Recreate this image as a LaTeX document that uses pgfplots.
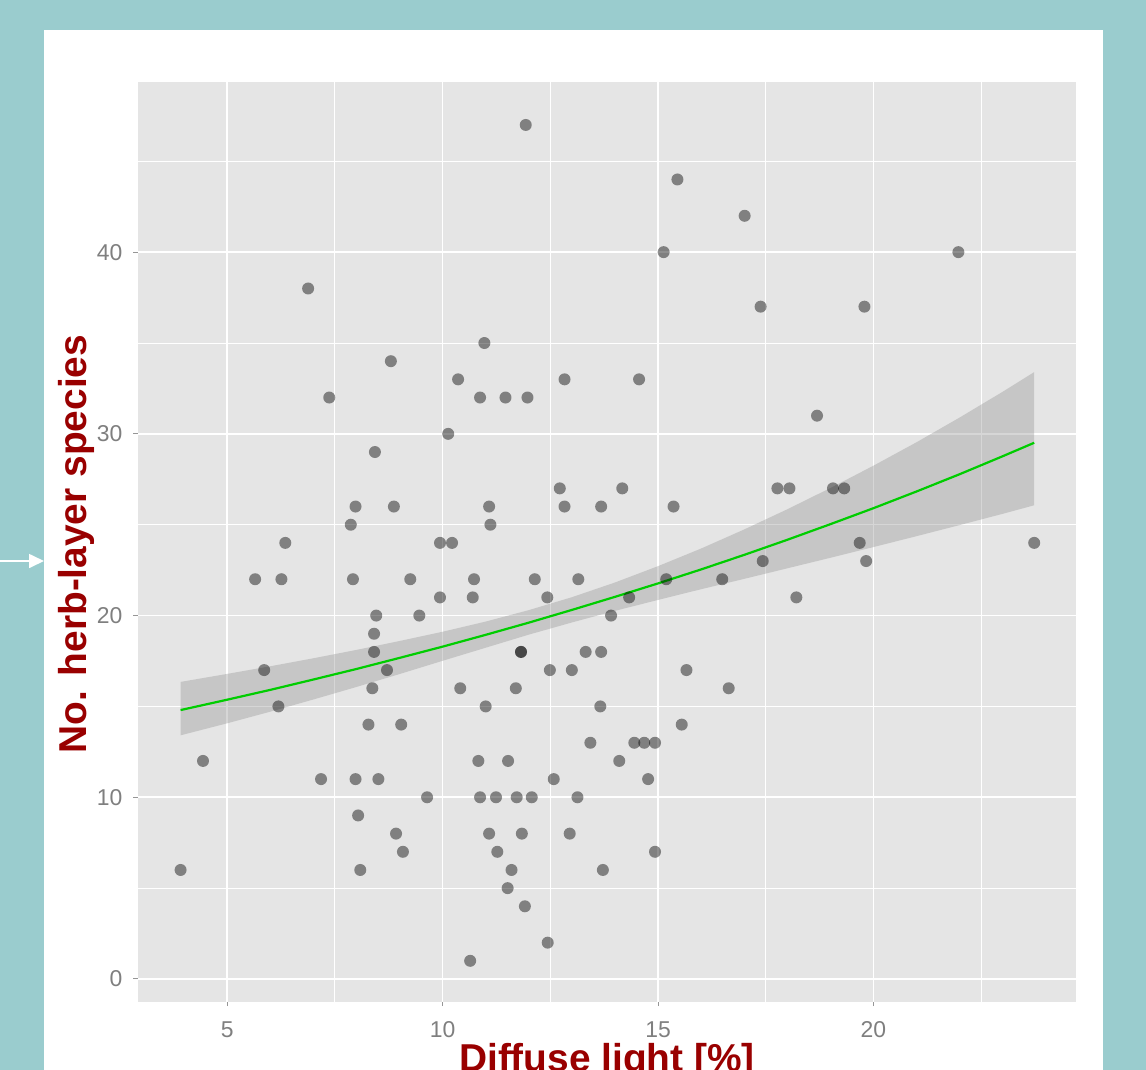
\documentclass[border=0pt]{standalone}
\usepackage{fontspec}
\setmainfont{Liberation Sans}
\usepackage{pgfplots}
\pgfplotsset{compat=1.18}
\usetikzlibrary{arrows.meta}
\definecolor{tealbg}{RGB}{154,204,206}
\definecolor{panelbg}{RGB}{229,229,229}
\definecolor{titlered}{RGB}{153,0,0}
\definecolor{tickgray}{RGB}{127,127,127}
\definecolor{tickmark}{RGB}{150,150,150}
\definecolor{fitgreen}{RGB}{0,205,0}
\definecolor{bandgray}{RGB}{153,153,153}
\begin{document}
\begin{tikzpicture}
\useasboundingbox (0,0) rectangle (1146bp,-1070bp);
\clip (0,0) rectangle (1146bp,-1070bp);
\fill[tealbg] (0,0) rectangle (1146bp,-1070bp);
\fill[white] (44bp,-30bp) rectangle (1103bp,-1070bp);
\draw[white, line width=1.7bp, -{Triangle[length=15bp,width=14bp]}] (0,-561bp) -- (44bp,-561bp);
\begin{axis}[
  at={(137.5bp,-1001.7bp)}, anchor=south west,
  width=938.5bp, height=920bp, scale only axis,
  xmin=2.92, xmax=24.70, ymin=-1.25, ymax=49.38,
  axis background/.style={fill=panelbg},
  axis lines*=left, axis line style={draw=none},
  xtick={5,10,15,20}, ytick={0,10,20,30,40},
  minor xtick={7.5,12.5,17.5,22.5}, minor ytick={5,15,25,35,45},
  grid=both,
  major grid style={white, line width=1.8bp},
  minor grid style={white, line width=0.9bp},
  tick align=outside, major tick length=4.5bp, minor tick length=0pt,
  tick style={tickmark, line width=1bp},
  /pgf/number format/assume math mode=true,
  ticklabel style={font=\fontsize{23}{23}\selectfont, text=tickgray},
  xticklabel style={inner sep=0pt, anchor=north, yshift=-15bp},
  yticklabel style={inner sep=0pt, anchor=east, xshift=-10.5bp},
  clip=true,
]
\addplot[only marks, mark=*, mark size=6bp, mark options={draw opacity=0, fill=black, fill opacity=0.44}] coordinates {
(3.92,6) (4.44,12) (5.65,22) (5.86,17) (6.19,15) (6.26,22) (6.35,24) (6.88,38)
(7.18,11) (7.37,32) (7.87,25) (7.98,26) (7.92,22) (7.98,11) (8.04,9) (8.09,6)
(8.28,14) (8.37,16) (8.41,18) (8.41,19) (8.46,20) (8.43,29) (8.51,11) (8.71,17)
(8.80,34) (8.87,26) (8.92,8) (9.04,14) (9.08,7) (9.25,22) (9.46,20) (9.64,10)
(9.94,21) (9.94,24) (10.13,30) (10.22,24) (10.36,33) (10.41,16) (10.64,1) (10.73,22)
(10.70,21) (10.83,12) (10.87,32) (10.87,10) (10.97,35) (11.00,15) (11.08,26) (11.11,25)
(11.08,8) (11.24,10) (11.27,7) (11.46,32) (11.52,12) (11.51,5) (11.60,6) (11.70,16)
(11.72,10) (11.82,18) (11.82,18) (11.84,8) (11.91,4) (11.93,47) (11.97,32) (12.07,10)
(12.14,22) (12.43,21) (12.44,2) (12.49,17) (12.58,11) (12.72,27) (12.83,26) (12.83,33)
(12.95,8) (13.00,17) (13.13,10) (13.15,22) (13.32,18) (13.43,13) (13.66,15) (13.68,18)
(13.68,26) (13.72,6) (13.91,20) (14.10,12) (14.17,27) (14.33,21) (14.45,13) (14.56,33)
(14.68,13) (14.77,11) (14.93,13) (14.93,7) (15.13,40) (15.19,22) (15.36,26) (15.45,44)
(15.55,14) (15.66,17) (16.49,22) (16.64,16) (17.01,42) (17.38,37) (17.43,23) (17.77,27)
(18.05,27) (18.21,21) (18.69,31) (19.06,27) (19.32,27) (19.68,24) (19.79,37) (19.83,23)
(21.97,40) (23.73,24)
};
\addplot[draw=none, fill=bandgray, fill opacity=0.4] coordinates {
(3.92,16.35) (5,16.79) (6,17.21) (7,17.65) (8,18.11) (9,18.60) (10,19.11) (11,19.67)
(12,20.30) (13,21.01) (14,21.82) (15,22.72) (16,23.69) (17,24.74) (18,25.85) (19,27.02)
(20,28.25) (21,29.54) (22,30.90) (23,32.32) (23.73,33.40)
(23.73,26.07) (23,25.60) (22,24.98) (21,24.37) (20,23.77) (19,23.18) (18,22.60) (17,22.02)
(16,21.45) (15,20.86) (14,20.26) (13,19.62) (12,18.95) (11,18.23) (10,17.51) (9,16.78)
(8,16.07) (7,15.38) (6,14.71) (5,14.07) (3.92,13.41)
} -- cycle;
\addplot[fitgreen, line width=2.2bp] coordinates {
(3.92,14.80) (5,15.37) (6,15.91) (7,16.48) (8,17.06) (9,17.67) (10,18.29) (11,18.94)
(12,19.61) (13,20.31) (14,21.03) (15,21.77) (16,22.54) (17,23.34) (18,24.17) (19,25.03)
(20,25.91) (21,26.83) (22,27.78) (23,28.77) (23.73,29.51)
};
\end{axis}
\node[anchor=base, inner sep=0pt, text=titlered, font=\fontsize{39}{39}\selectfont\bfseries] at (607bp,-1071bp) {Diffuse light [\%]};
\node[anchor=base, rotate=90, inner sep=0pt, text=titlered, font=\fontsize{39}{39}\selectfont\bfseries] at (86bp,-544bp) {No. herb-layer species};
\end{tikzpicture}
\end{document}
